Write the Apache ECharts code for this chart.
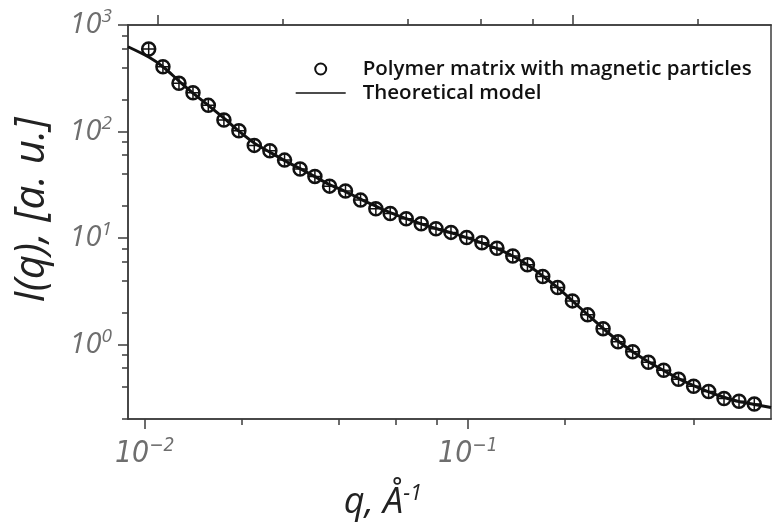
<!DOCTYPE html>
<html>
<head>
<meta charset="utf-8">
<script src="https://cdn.jsdelivr.net/npm/echarts@6/dist/echarts.min.js"></script>
<style>
html,body{margin:0;padding:0;background:#fff;}
#chart{width:772px;height:529px;}
</style>
</head>
<body>
<div id="chart"></div>
<script>
// ---- data (log-log) ----
const qData = [0.01029,0.01139,0.01277,0.01411,0.01574,0.01759,0.01957,0.02184,0.02441,0.0271,
  0.03027,0.03364,0.03735,0.04184,0.04658,0.05194,0.05754,0.06449,0.07176,0.07973,
  0.08872,0.09922,0.1106,0.1231,0.1378,0.153,0.1706,0.1898,0.2108,0.235,
  0.2623,0.2919,0.3239,0.3623,0.404,0.4491,0.5,0.5566,0.621,0.6911,0.7706];
const iData = [595,405.8,283.3,231.1,176.0,128.1,101.6,74.1,65.9,53.9,
  44.4,37.9,30.7,27.6,22.7,18.8,17.0,15.2,13.6,12.2,
  11.3,10.1,9.03,8.03,6.78,5.60,4.35,3.43,2.57,1.90,
  1.41,1.06,0.856,0.682,0.573,0.472,0.406,0.362,0.311,0.293,0.276];
const qModel = [0.00888,0.01029,0.01139,0.01277,0.01411,0.01574,0.01759,0.01957,0.02184,0.02441,0.0271,
  0.03027,0.03364,0.03735,0.04184,0.04658,0.05194,0.05754,0.06449,0.07176,0.07973,
  0.08872,0.09922,0.1106,0.1231,0.1378,0.153,0.1706,0.1898,0.2108,0.235,
  0.2623,0.2919,0.3239,0.3623,0.404,0.4491,0.5,0.5566,0.621,0.6911,0.7706,0.868];
const iModel = [625,500,405.8,297.8,229.7,176.0,133.7,100.9,77.8,64.1,53.3,
  44.8,37.7,31.7,27.3,23.2,19.9,17.3,15.2,13.6,12.3,
  11.2,10.1,8.99,7.94,6.78,5.60,4.40,3.42,2.57,1.91,
  1.42,1.08,0.856,0.689,0.570,0.479,0.412,0.360,0.320,0.291,0.274,0.256];

const xMajorTicks = [0.01, 0.1];
const xMinorTicks = [0.02, 0.04, 0.06, 0.08, 0.2, 0.5];
const topMajorTicks = [0.01, 0.1];
const topMinorTicks = [0.02, 0.04, 0.06, 0.08, 0.2];
const yMajorTicks = [1, 10, 100, 1000];
const yMinorTicks = [0.2, 0.4, 0.6, 0.8, 2, 4, 6, 8, 20, 40, 60, 80, 200, 400, 600, 800];

const seriesNames = ['Polymer matrix with magnetic particles', 'Theoretical model'];

const AX = '#3c3c3c';
const chart = echarts.init(document.getElementById('chart'), null, {renderer: 'canvas'});

function supLabel(v) {
  const e = Math.round(Math.log10(v));
  const es = e < 0 ? '\u2212' + (-e) : String(e);
  return '{b|10}{s|' + es + '}';
}
const NARROW = '"DejaVu Sans", sans-serif';
const xRich = {
  b: {fontSize: 30, fontStyle: 'italic', fontWeight: 'condensed', color: '#6e6e6e', fontFamily: NARROW},
  s: {fontSize: 19, fontStyle: 'italic', fontWeight: 'condensed', color: '#6e6e6e', fontFamily: NARROW, padding: [0, 0, 16, 0]}
};
const yRich = {
  b: {fontSize: 29, fontStyle: 'italic', color: '#6e6e6e', fontFamily: '"Open Sans", sans-serif'},
  s: {fontSize: 19, fontStyle: 'italic', color: '#6e6e6e', fontFamily: '"Open Sans", sans-serif', padding: [0, 0, 16, 0]}
};

function logAxis(extra) {
  return Object.assign({
    type: 'log', logBase: 10, gridIndex: 0,
    axisLine: {show: true, lineStyle: {color: AX, width: 1.5}},
    splitLine: {show: false},
    minorTick: {show: false},
    minorSplitLine: {show: false}
  }, extra);
}

const option = {
  animation: false,
  backgroundColor: '#fff',
  grid: {left: 128, right: 1, top: 25, bottom: 110, containLabel: false},
  legend: {
    left: 295, top: 57, orient: 'vertical', padding: 0,
    itemWidth: 50, itemHeight: 11, itemGap: 0,
    textStyle: {fontSize: 20.5, fontWeight: 600, color: '#111', fontFamily: '"Open Sans", sans-serif', lineHeight: 24, padding: [0, 0, 0, 12]},
    data: [
      {name: seriesNames[0], icon: 'circle', itemStyle: {color: 'rgba(255,255,255,0)', borderColor: '#111', borderWidth: 2, opacity: 1}},
      {name: seriesNames[1], lineStyle: {width: 1.4, color: '#111'}, itemStyle: {opacity: 0}}
    ]
  },
  xAxis: [
    logAxis({position: 'bottom', min: 0.00888, max: 0.868,
      axisTick: {show: true, inside: false, length: 10, lineStyle: {color: AX, width: 1.5}, customValues: xMajorTicks},
      axisLabel: {show: true, margin: 18, customValues: xMajorTicks, formatter: supLabel, rich: xRich}}),
    logAxis({position: 'bottom', min: 0.00888, max: 0.868,
      axisTick: {show: true, inside: false, length: 6, lineStyle: {color: AX, width: 1.5}, customValues: xMinorTicks},
      axisLabel: {show: false}}),
    logAxis({position: 'top', min: 0.0085, max: 0.3,
      axisTick: {show: true, inside: false, length: 10, lineStyle: {color: AX, width: 1.5}, customValues: topMajorTicks},
      axisLabel: {show: false}}),
    logAxis({position: 'top', min: 0.0085, max: 0.3,
      axisTick: {show: true, inside: false, length: 6, lineStyle: {color: AX, width: 1.5}, customValues: topMinorTicks},
      axisLabel: {show: false}})
  ],
  yAxis: [
    logAxis({position: 'left', min: 0.2, max: 1000,
      axisTick: {show: true, inside: false, length: 10, lineStyle: {color: AX, width: 1.5}, customValues: yMajorTicks},
      axisLabel: {show: true, margin: 16, customValues: yMajorTicks, formatter: supLabel, rich: yRich}}),
    logAxis({position: 'left', min: 0.2, max: 1000,
      axisTick: {show: true, inside: false, length: 6, lineStyle: {color: AX, width: 1.5}, customValues: yMinorTicks},
      axisLabel: {show: false}}),
    logAxis({position: 'right', min: 0.2, max: 1000,
      axisTick: {show: false}, axisLabel: {show: false}})
  ],
  graphic: [
    {type: 'text', x: 32, y: 210, rotation: Math.PI / 2,
      style: {text: 'I(q), [a. u.]', fontSize: 42, fontStyle: 'italic', fontFamily: '"Open Sans", sans-serif', fill: '#222', align: 'center', verticalAlign: 'middle'}},
    {type: 'text', x: 383, y: 503,
      style: {text: '{a|q, Å}{s|-1}', align: 'center', verticalAlign: 'middle',
        rich: {
          a: {fontSize: 36, fontStyle: 'italic', fontFamily: '"Open Sans", sans-serif', fill: '#222'},
          s: {fontSize: 22, fontStyle: 'italic', fontFamily: '"Open Sans", sans-serif', fill: '#222', padding: [0, 0, 18, 0]}
        }}}
  ],
  series: [
    {name: seriesNames[1], type: 'line', xAxisIndex: 0, yAxisIndex: 0,
      data: qModel.map((q, i) => [q, iModel[i]]),
      symbol: 'none', smooth: 0.3, lineStyle: {color: '#111', width: 3}, itemStyle: {color: '#111'}, z: 2},
    {name: seriesNames[0], type: 'scatter', xAxisIndex: 0, yAxisIndex: 0,
      data: qData.map((q, i) => [q, iData[i]]),
      symbol: 'circle', symbolSize: 13,
      itemStyle: {color: 'rgba(255,255,255,0)', borderColor: '#111', borderWidth: 2.5, opacity: 1}, z: 4},
    {name: 'error bars', type: 'scatter', xAxisIndex: 0, yAxisIndex: 0,
      data: qData.map((q, i) => [q, iData[i]]),
      symbol: 'path://M10,0 L10,20 M0,10 L20,10', symbolSize: 12,
      itemStyle: {color: 'rgba(0,0,0,0)', borderColor: '#111', borderWidth: 1.5, opacity: 1}, z: 3, silent: true}
  ]
};
chart.setOption(option);
</script>
</body>
</html>
